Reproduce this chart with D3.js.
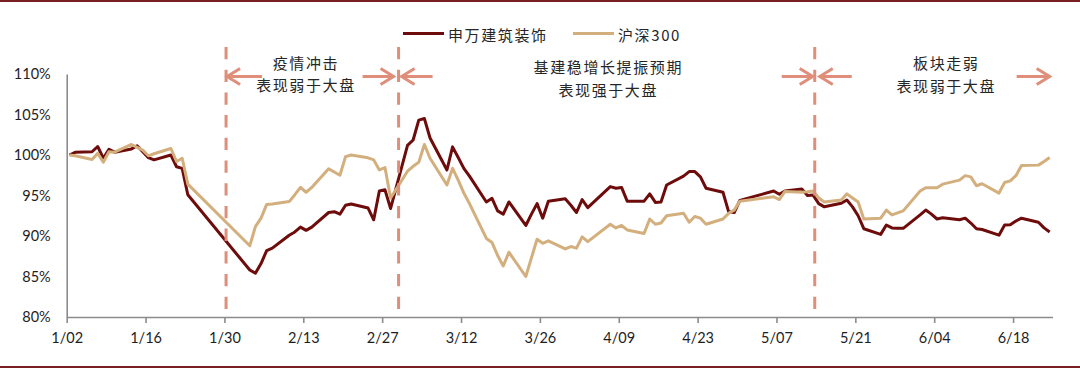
<!DOCTYPE html>
<html><head><meta charset="utf-8">
<script src="https://cdn.jsdelivr.net/npm/d3@7/dist/d3.min.js"></script>
<style>html,body{margin:0;padding:0;background:#fff}svg{display:block}</style>
</head><body>
<svg id="chart" width="1080" height="370"></svg>
<script>
// ---------- data ----------
const dates = [
"01-02","01-03","01-06","01-07","01-08","01-09","01-10","01-13","01-14","01-15","01-16","01-17","01-20","01-21","01-22","01-23",
"02-03","02-04","02-05","02-06","02-07","02-10","02-11","02-12","02-13","02-14","02-17","02-18","02-19","02-20","02-21","02-24","02-25","02-26","02-27","02-28",
"03-02","03-03","03-04","03-05","03-06","03-09","03-10","03-11","03-12","03-13","03-16","03-17","03-18","03-19","03-20","03-23","03-24","03-25","03-26","03-27","03-30","03-31",
"04-01","04-02","04-03","04-07","04-08","04-09","04-10","04-13","04-14","04-15","04-16","04-17","04-20","04-21","04-22","04-23","04-24","04-27","04-28","04-29","04-30",
"05-06","05-07","05-08","05-11","05-12","05-13","05-14","05-15","05-18","05-19","05-20","05-21","05-22","05-25","05-26","05-27","05-28","05-29",
"06-01","06-02","06-03","06-04","06-05","06-08","06-09","06-10","06-11","06-12","06-15","06-16","06-17","06-18","06-19","06-22","06-23","06-24"];

// 申万建筑装饰 (relative to 1/02 = 100%)
const swValues = [
100.0,100.33,100.4,101.05,99.6,100.7,100.35,100.75,101.15,100.4,99.67,99.4,100.0,98.55,98.35,95.1,
85.8,85.4,86.6,88.2,88.5,90.1,90.5,91.1,90.7,91.1,92.9,93.0,92.7,93.8,93.95,93.45,92.0,95.55,95.7,93.4,
101.2,101.85,104.3,104.5,102.1,98.15,101.0,99.7,98.35,97.4,94.2,94.65,93.1,92.7,94.2,91.3,92.7,94.0,92.2,94.3,94.6,93.8,
92.9,94.5,93.5,96.1,95.9,96.0,94.3,94.3,95.2,94.15,94.2,96.3,97.4,97.95,97.95,97.3,95.9,95.4,93.0,92.9,94.4,
95.55,95.15,95.55,95.8,95.0,95.05,94.0,93.6,94.05,94.45,93.6,92.5,90.9,90.2,91.35,91.0,90.95,90.95,
92.6,93.2,92.7,92.1,92.25,92.0,92.2,91.6,90.9,90.8,90.1,91.35,91.4,91.85,92.2,91.7,91.0,90.5];

// 沪深300 (relative to 1/02 = 100%)
const hsValues = [
100.0,99.9,99.45,100.2,99.1,100.4,100.35,101.3,100.95,100.6,99.9,100.15,100.8,99.2,99.6,96.4,
88.8,91.15,92.2,93.9,93.95,94.25,95.1,96.0,95.4,96.0,98.3,97.9,97.5,99.8,100.0,99.65,99.4,98.15,98.45,94.7,
98.0,98.6,99.1,101.3,99.6,96.3,98.35,96.9,95.3,94.0,89.7,89.2,87.6,86.3,88.0,85.0,87.3,89.6,89.1,89.4,88.4,88.7,
88.5,89.9,89.3,91.45,91.0,91.3,90.75,90.3,92.1,91.45,91.6,92.5,92.8,91.7,92.4,92.2,91.45,92.1,92.8,93.2,94.3,
94.85,94.5,95.5,95.4,95.45,95.55,94.7,94.2,94.45,95.2,94.7,94.2,92.1,92.2,93.2,92.6,92.85,93.1,
95.55,95.95,95.95,95.95,96.4,96.9,97.45,97.3,96.2,96.45,95.3,96.6,96.8,97.45,98.7,98.75,99.2,99.7];

const seriesNames = ["申万建筑装饰", "沪深300"];
const xTickLabels = ["1/02","1/16","1/30","2/13","2/27","3/12","3/26","4/09","4/23","5/07","5/21","6/04","6/18"];
const yTickValues = [80, 85, 90, 95, 100, 105, 110];

// annotation: phase dividers, phase texts, arrows
const dividerDates = ["2020-01-30T07:00", "2020-02-29T22:00", "2020-05-13T19:00"];
const phaseCenters = ["2020-02-13T08:00", "2020-04-07T00:00", "2020-06-06T00:00"];
const phaseLine1 = ["疫情冲击", "基建稳增长提振预期", "板块走弱"];
const phaseLine2 = ["表现弱于大盘", "表现强于大盘", "表现弱于大盘"];

// ---------- layout / style ----------
const COL_SW = "#6E0B0B", COL_HS = "#D4AF7E", COL_ANN = "#DF8E7A", COL_AX = "#8C8C8C";
const svg = d3.select("#chart");
const parse = d3.utcParse("%Y-%m-%d");
const parseT = d3.utcParse("%Y-%m-%dT%H:%M");
const dts = dates.map(d => parse("2020-" + d));

const x = d3.scaleUtc().domain([parse("2020-01-02"), parse("2020-06-25")]).range([66.7, 1052.5]);
const y = d3.scaleLinear().domain([80, 110]).range([317, 74]);
const halfDay = x(d3.utcHour.offset(x.domain()[0], 12)) - x(x.domain()[0]);

// frame lines
svg.append("line").attr("x1", 0).attr("x2", 1080).attr("y1", 1).attr("y2", 1)
  .attr("stroke", "#7A1F1F").attr("stroke-width", 2);
svg.append("line").attr("x1", 0).attr("x2", 1080).attr("y1", 367).attr("y2", 367)
  .attr("stroke", "#7A1F1F").attr("stroke-width", 2);

// y axis
const yAxis = svg.append("g").attr("transform", `translate(${x.range()[0]},0)`)
  .call(d3.axisLeft(y).tickValues(yTickValues).tickSize(0).tickPadding(16).tickFormat(d => d + "%"));
yAxis.select(".domain").attr("stroke", COL_AX).attr("stroke-width", 1.6);
yAxis.selectAll("text").attr("font-family", "Lato, 'Open Sans', sans-serif").attr("font-size", 14.5)
  .attr("fill", "#1e1e1e");

// x axis
const xTicks = xTickLabels.map(t => { const [m, d] = t.split("/"); return parse(`2020-${m.padStart(2, "0")}-${d}`); });
const xAxis = svg.append("g").attr("transform", `translate(0,${y.range()[0]})`)
  .call(d3.axisBottom(x).tickValues(xTicks).tickSizeInner(6).tickSizeOuter(0).tickPadding(10)
    .tickFormat((d, i) => xTickLabels[i]));
xAxis.select(".domain").attr("stroke", COL_AX).attr("stroke-width", 1.6);
xAxis.selectAll(".tick line").attr("stroke", COL_AX).attr("stroke-width", 1.6);
xAxis.selectAll("text").attr("font-family", "Lato, 'Open Sans', sans-serif").attr("font-size", 14.5)
  .attr("fill", "#1e1e1e");

// series lines
const line = d3.line().x((v, i) => x(dts[i]) + halfDay).y(v => y(v));
svg.append("path").datum(swValues).attr("d", line).attr("fill", "none")
  .attr("stroke", COL_SW).attr("stroke-width", 3).attr("stroke-linejoin", "round");
svg.append("path").datum(hsValues).attr("d", line).attr("fill", "none")
  .attr("stroke", COL_HS).attr("stroke-width", 3).attr("stroke-linejoin", "round");

// dividers
const divX = dividerDates.map(d => x(parseT(d)));
svg.selectAll("line.div").data(divX).enter().append("line").attr("class", "div")
  .attr("x1", d => d).attr("x2", d => d).attr("y1", 47).attr("y2", 309)
  .attr("stroke", COL_ANN).attr("stroke-width", 3).attr("stroke-dasharray", "12.3,10.4");

// arrows: [tipX, direction(+1 right / -1 left), length]
const endX = x(parse("2020-06-24")) + halfDay;
const arrows = [
  [divX[0] + 1, -1, 35], [divX[1] - 5, 1, 31], [divX[1] + 3, -1, 31],
  [divX[2] - 2, 1, 31], [divX[2] + 5, -1, 32], [endX, 1, 33]
];
const AY = 76.5;
arrows.forEach(([tx, dir, len]) => {
  const g = svg.append("g").attr("stroke", COL_ANN).attr("stroke-width", 3).attr("fill", "none");
  g.append("line").attr("x1", tx - dir * len).attr("x2", tx - dir * 1.5).attr("y1", AY).attr("y2", AY);
  g.append("path").attr("d", `M${tx - dir * 13},${AY - 8}L${tx},${AY}L${tx - dir * 13},${AY + 8}`)
    .attr("stroke-linejoin", "miter");
});

// phase texts
const phaseY1 = [62, 66, 62.5], phaseY2 = [84.5, 89, 85];
phaseCenters.forEach((c, i) => {
  const cx = x(parseT(c));
  [[phaseLine1[i], phaseY1[i]], [phaseLine2[i], phaseY2[i]]].forEach(([t, yy]) => {
    svg.append("text").attr("x", cx + 0.8).attr("y", yy).attr("text-anchor", "middle")
      .attr("dominant-baseline", "central").attr("font-family", "'Noto Sans CJK SC', sans-serif")
      .attr("font-size", 15).attr("letter-spacing", 1.6).attr("fill", "#262626").text(t);
  });
});

// legend
const legend = [[403, COL_SW, seriesNames[0]], [573, COL_HS, seriesNames[1]]];
legend.forEach(([lx, col, name]) => {
  svg.append("line").attr("x1", lx).attr("x2", lx + 41).attr("y1", 33.5).attr("y2", 33.5)
    .attr("stroke", col).attr("stroke-width", 3);
  svg.append("text").attr("x", lx + 45).attr("y", 34).attr("dominant-baseline", "central")
    .attr("font-family", "'Noto Sans CJK SC', sans-serif").attr("font-size", 15)
    .attr("letter-spacing", 1.6).attr("fill", "#262626").text(name);
});
</script>
</body></html>
